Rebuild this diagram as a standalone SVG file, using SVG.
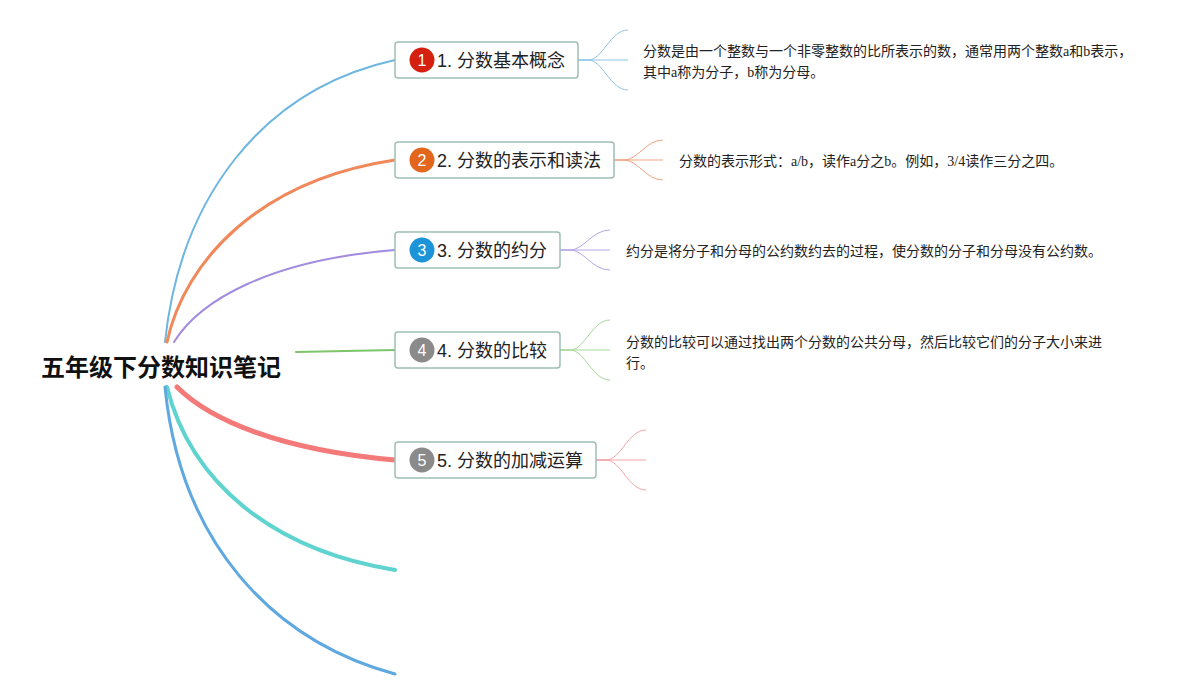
<svg xmlns="http://www.w3.org/2000/svg" width="1203" height="700" viewBox="0 0 1203 700">
<style>
.box{fill:#ffffff;stroke:#9dbfb5;stroke-width:1.5}
.lbl{font-family:"Liberation Sans","Noto Sans CJK SC",sans-serif;font-size:18px;fill:#222}
.num{font-family:"Liberation Sans","Noto Sans CJK SC",sans-serif;font-size:16px;fill:#fff;text-anchor:middle}
.desc{font-family:"Liberation Serif","Noto Sans CJK SC",serif;font-size:14px;fill:#222}
.root{font-family:"Liberation Sans","Noto Sans CJK SC",sans-serif;font-size:24px;font-weight:bold;fill:#111}
.c{fill:none;stroke-linecap:round}
.s{fill:none;stroke-width:1}
</style>
<rect width="1203" height="700" fill="#ffffff"/>
<g id="connectors">
<path class="c" d="M165,342 C180,200 260,90 395,60" stroke="#6cb6e0" stroke-width="2"/>
<path class="c" d="M167,342 C185,260 260,180 395,160" stroke="#f0885a" stroke-width="3"/>
<path class="c" d="M174,342 C200,300 270,260 395,250" stroke="#a38ce0" stroke-width="2"/>
<path class="c" d="M296,352 L395,350" stroke="#7dc56a" stroke-width="2"/>
<path class="c" d="M177,387 C210,420 280,450 395,460" stroke="#f47a7a" stroke-width="5"/>
<path class="c" d="M167,387 C190,480 270,550 395,570" stroke="#5fd3cf" stroke-width="4"/>
<path class="c" d="M165,387 C180,540 270,640 395,674" stroke="#5fa8e0" stroke-width="3"/>
<g stroke="#8ec5e6">
<path class="s" d="M578,60 L588,60 C603,60 610,30 628,30"/>
<path class="s" d="M578,60 L628,60"/>
<path class="s" d="M578,60 L588,60 C603,60 610,90 628,90"/>
</g>
<g stroke="#f2a584">
<path class="s" d="M614,160 L624,160 C638,160 646,140 663,140"/>
<path class="s" d="M614,160 L663,160"/>
<path class="s" d="M614,160 L624,160 C638,160 646,180 663,180"/>
</g>
<g stroke="#b5a6e6">
<path class="s" d="M560,250 L570,250 C584,250 592,230 610,230"/>
<path class="s" d="M560,250 L610,250"/>
<path class="s" d="M560,250 L570,250 C584,250 592,270 610,270"/>
</g>
<g stroke="#a6d896">
<path class="s" d="M560,350 L570,350 C585,350 592,320 610,320"/>
<path class="s" d="M560,350 L610,350"/>
<path class="s" d="M560,350 L570,350 C585,350 592,380 610,380"/>
</g>
<g stroke="#f2a3a3">
<path class="s" d="M596,460 L606,460 C621,460 628,430 646,430"/>
<path class="s" d="M596,460 L646,460"/>
<path class="s" d="M596,460 L606,460 C621,460 628,490 646,490"/>
</g>
</g>
<g id="root">
<text class="root" x="41" y="376">五年级下分数知识笔记</text>
</g>
<g id="node1">
<rect class="box" x="395" y="42" width="183" height="36" rx="3"/>
<circle cx="422" cy="60" r="12.5" fill="#d4200e"/>
<text class="num" x="422" y="66">1</text>
<text class="lbl" x="437" y="67">1. 分数基本概念</text>
</g>
<g id="node2">
<rect class="box" x="395" y="142" width="219" height="36" rx="3"/>
<circle cx="422" cy="160" r="12.5" fill="#e2661c"/>
<text class="num" x="422" y="166">2</text>
<text class="lbl" x="437" y="167">2. 分数的表示和读法</text>
</g>
<g id="node3">
<rect class="box" x="395" y="232" width="165" height="36" rx="3"/>
<circle cx="422" cy="250" r="12.5" fill="#1e94d8"/>
<text class="num" x="422" y="256">3</text>
<text class="lbl" x="437" y="257">3. 分数的约分</text>
</g>
<g id="node4">
<rect class="box" x="395" y="332" width="165" height="36" rx="3"/>
<circle cx="422" cy="350" r="12.5" fill="#8a8a8a"/>
<text class="num" x="422" y="356">4</text>
<text class="lbl" x="437" y="357">4. 分数的比较</text>
</g>
<g id="node5">
<rect class="box" x="395" y="442" width="201" height="36" rx="3"/>
<circle cx="422" cy="460" r="12.5" fill="#8a8a8a"/>
<text class="num" x="422" y="466">5</text>
<text class="lbl" x="437" y="467">5. 分数的加减运算</text>
</g>
<g id="desc1">
<text class="desc" x="643" y="56">分数是由一个整数与一个非零整数的比所表示的数，通常用两个整数a和b表示，</text>
<text class="desc" x="643" y="77">其中a称为分子，b称为分母。</text>
</g>
<g id="desc2">
<text class="desc" x="679" y="166">分数的表示形式：a/b，读作a分之b。例如，3/4读作三分之四。</text>
</g>
<g id="desc3">
<text class="desc" x="626" y="256">约分是将分子和分母的公约数约去的过程，使分数的分子和分母没有公约数。</text>
</g>
<g id="desc4">
<text class="desc" x="626" y="347">分数的比较可以通过找出两个分数的公共分母，然后比较它们的分子大小来进</text>
<text class="desc" x="626" y="368">行。</text>
</g>
</svg>
